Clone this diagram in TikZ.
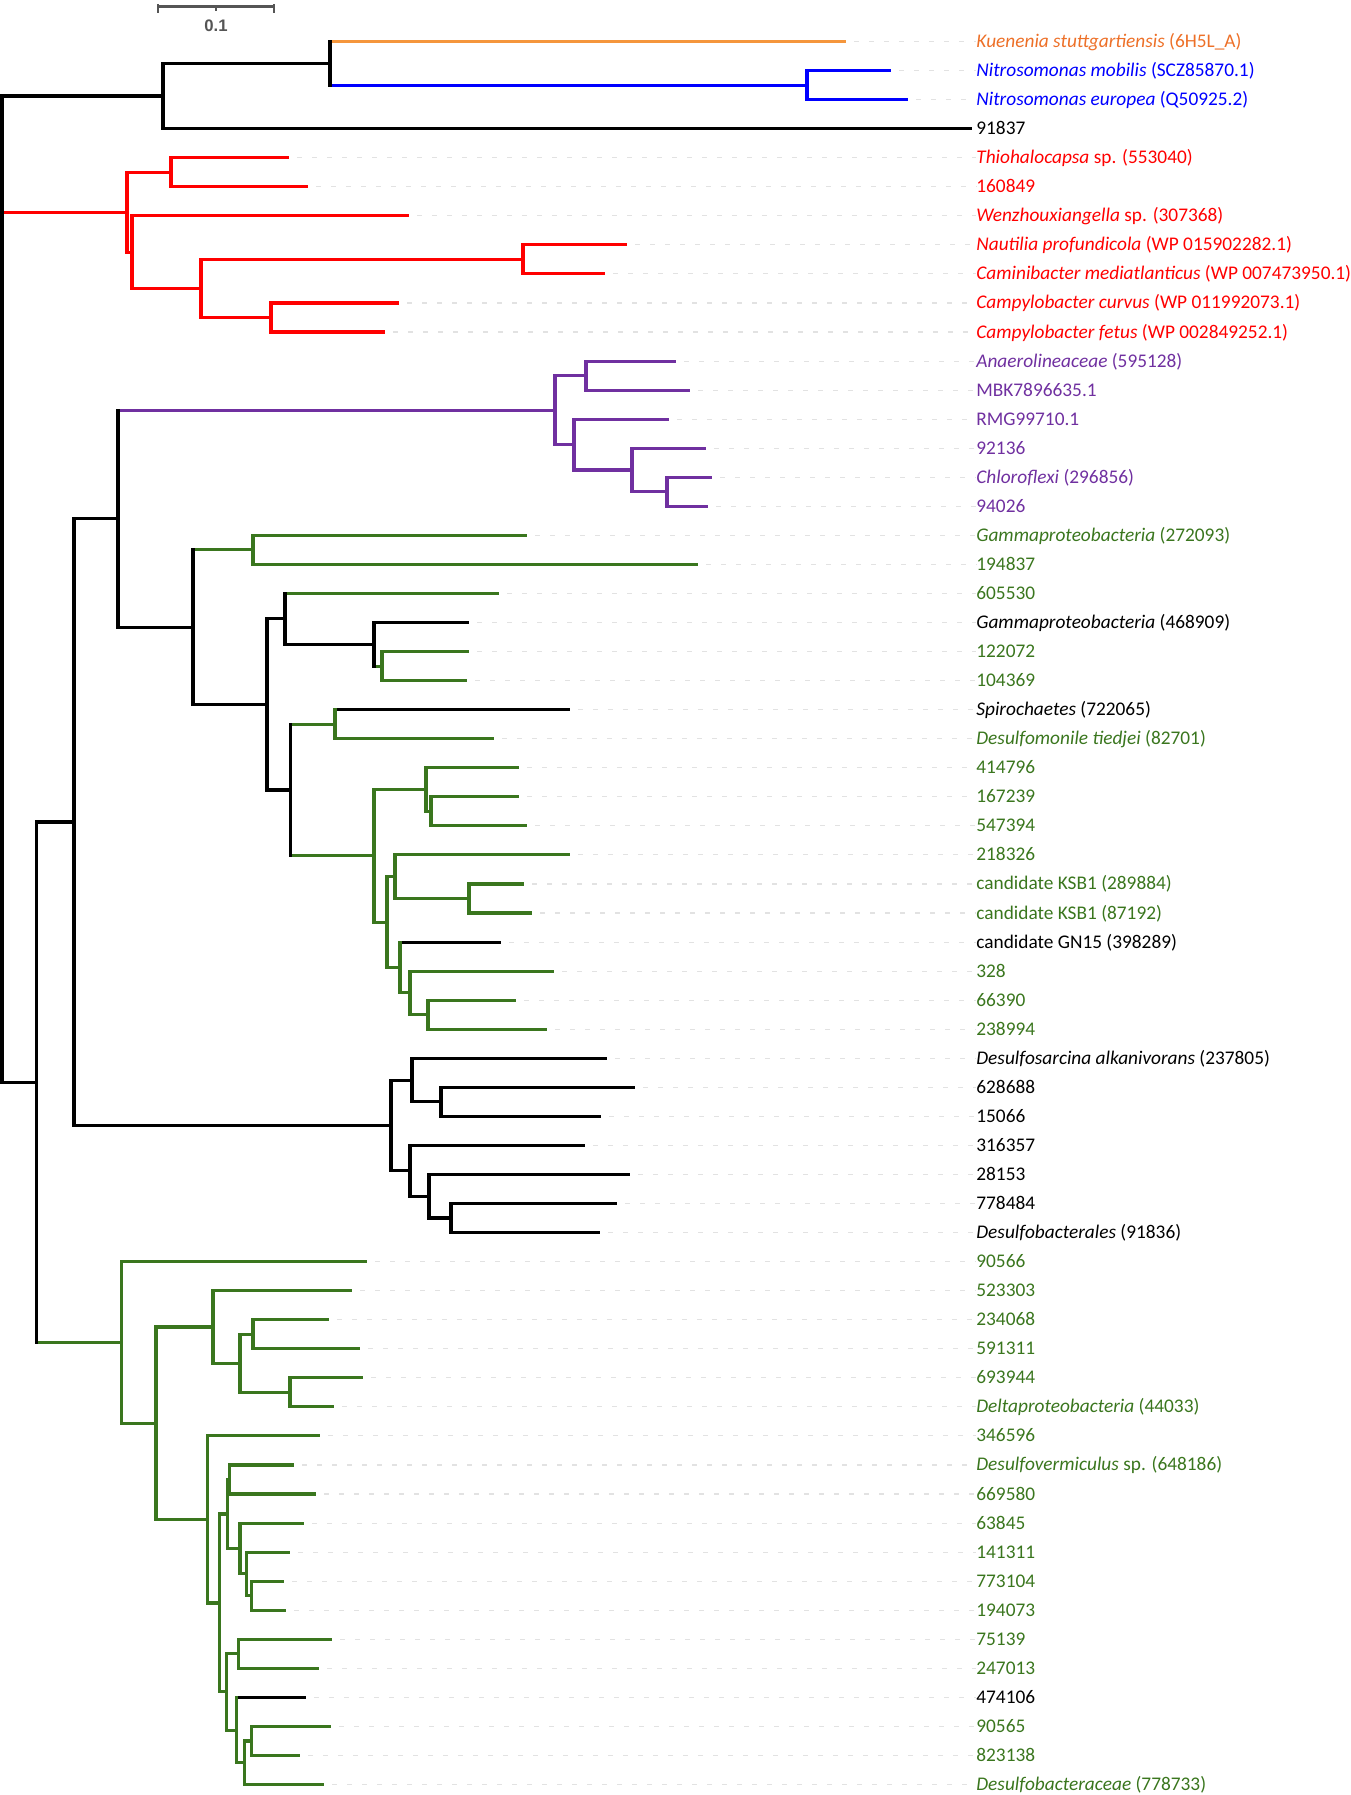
\documentclass[tikz,border=0pt]{standalone}
\usepackage{fontspec}
\setmainfont{Carlito}
\newfontfamily\barfont{Liberation Sans}
\usetikzlibrary{calc}
\definecolor{orangebr}{RGB}{245,150,60}
\definecolor{orangetx}{RGB}{237,112,40}
\definecolor{bluetr}{RGB}{0,0,255}
\definecolor{redtr}{RGB}{255,0,0}
\definecolor{purpletr}{RGB}{112,48,160}
\definecolor{greentr}{RGB}{58,118,30}
\definecolor{leadgray}{RGB}{226,226,226}
\definecolor{bargray}{RGB}{85,85,85}
\tikzset{
  branch/.style={line width=0.062cm, line cap=rect},
  leader/.style={line width=0.022cm, draw=leadgray, dash pattern=on 0.1cm off 0.2cm, shorten <=0.2cm},
  lab/.style={anchor=base west, inner sep=0pt, yshift=-0.12cm, font=\fontsize{11}{12}\selectfont},
  scalebar/.style={line width=0.055cm, draw=bargray},
}
\begin{document}
\begin{tikzpicture}[x=0.02cm,y=-0.02cm]
\useasboundingbox (0,0) rectangle (1350,1795);
% tips, one per row
\foreach \i/\len in {1/844,2/889,3/906,4/970,5/287,6/306,7/407,8/625,9/603,10/397,
    11/383,12/674,13/688,14/667,15/704,16/710,17/706,18/525,19/696,20/497,
    21/467,22/467,23/465,24/568,25/492,26/517,27/517,28/525,29/568,30/522,
    31/530,32/499,33/552,34/514,35/545,36/605,37/633,38/599,39/583,40/628,
    41/615,42/598,43/365,44/350,45/327,46/358,47/361,48/332,49/318,50/292,
    51/314,52/302,53/288,54/282,55/284,56/330,57/317,58/304,59/329,60/298,61/322}
  \coordinate (e\i) at (\len,{41.5+29.05*(\i-1)});
% labels
\foreach \i/\col/\txt in {
    1/orangetx/{\textit{Kuenenia stuttgartiensis} (6H5L\_A)},
    2/bluetr/{\textit{Nitrosomonas mobilis} (SCZ85870.1)},
    3/bluetr/{\textit{Nitrosomonas europea} (Q50925.2)},
    4/black/{91837},
    5/redtr/{\textit{Thiohalocapsa} sp. (553040)},
    6/redtr/{160849},
    7/redtr/{\textit{Wenzhouxiangella} sp. (307368)},
    8/redtr/{\textit{Nautilia profundicola} (WP 015902282.1)},
    9/redtr/{\textit{Caminibacter mediatlanticus} (WP 007473950.1)},
    10/redtr/{\textit{Campylobacter curvus} (WP 011992073.1)},
    11/redtr/{\textit{Campylobacter fetus} (WP 002849252.1)},
    12/purpletr/{\textit{Anaerolineaceae} (595128)},
    13/purpletr/{MBK7896635.1},
    14/purpletr/{RMG99710.1},
    15/purpletr/{92136},
    16/purpletr/{\textit{Chloroflexi} (296856)},
    17/purpletr/{94026},
    18/greentr/{\textit{Gammaproteobacteria} (272093)},
    19/greentr/{194837},
    20/greentr/{605530},
    21/black/{\textit{Gammaproteobacteria} (468909)},
    22/greentr/{122072},
    23/greentr/{104369},
    24/black/{\textit{Spirochaetes} (722065)},
    25/greentr/{\textit{Desulfomonile tiedjei} (82701)},
    26/greentr/{414796},
    27/greentr/{167239},
    28/greentr/{547394},
    29/greentr/{218326},
    30/greentr/{candidate KSB1 (289884)},
    31/greentr/{candidate KSB1 (87192)},
    32/black/{candidate GN15 (398289)},
    33/greentr/{328},
    34/greentr/{66390},
    35/greentr/{238994},
    36/black/{\textit{Desulfosarcina alkanivorans} (237805)},
    37/black/{628688},
    38/black/{15066},
    39/black/{316357},
    40/black/{28153},
    41/black/{778484},
    42/black/{\textit{Desulfobacterales} (91836)},
    43/greentr/{90566},
    44/greentr/{523303},
    45/greentr/{234068},
    46/greentr/{591311},
    47/greentr/{693944},
    48/greentr/{\textit{Deltaproteobacteria} (44033)},
    49/greentr/{346596},
    50/greentr/{\textit{Desulfovermiculus} sp. (648186)},
    51/greentr/{669580},
    52/greentr/{63845},
    53/greentr/{141311},
    54/greentr/{773104},
    55/greentr/{194073},
    56/greentr/{75139},
    57/greentr/{247013},
    58/black/{474106},
    59/greentr/{90565},
    60/greentr/{823138},
    61/greentr/{\textit{Desulfobacteraceae} (778733)}}
  \node[lab,text=\col] (t\i) at (976,{41.5+29.05*(\i-1)}) {\txt};
% dashed leaders from tips to labels
\foreach \i in {1,2,3,5,6,...,61}
  \draw[leader] (e\i) -- (e\i -| t\i.west);
% inner nodes
\foreach \n/\x/\y in {root/2/589.1, A/163/95.97, B/330/63.29, C/807/85.08,
    R1/127/212.17, R2/171/172.23, R3/132/252.11, R4/201/288.43, R5/523/259.38, R6/271/317.48,
    L/36.5/1082.2, M/74/822.03, N1/118/518.62,
    P1/555/410.07, P2/586/375.58, P3/574/444.57, P4/632/469.99, P5/667/491.78,
    N2/193/627.16, G1/253/549.88, N3/267/704.44, N4/285/618.87, N5/374/644.29, N6/382/666.08,
    N7/290.5/790.0, N8/335/724.18, N9/374/855.81, N10/426/789.54, N11/431/811.33,
    N12/387/922.08, N13/395/876.69, N14/469/898.48, N15/400/967.47, N16/410/992.89, N17/428/1014.68,
    D1/391/1125.43, D2/412/1080.04, D3/441/1101.83, D4/410/1170.82, D5/429/1196.24, D6/451/1218.03,
    E1/121.5/1342.4, E2/156/1423.19, E3/213/1326.96, E4/240/1363.28, E5/253/1334.23, E6/290/1392.33,
    E7/207.7/1519.42, E8/219.3/1602.94, E9/227.7/1513.97, E10/229.3/1479.48, E11/240/1548.47,
    E12/246.7/1573.89, E13/251.7/1595.68, E14/226.7/1691.9, E15/238.3/1653.78, E16/236.7/1730.03,
    E17/244.3/1762.71, E18/251.7/1740.93}
  \coordinate (\n) at (\x,\y);
% horizontal branches
\foreach \n/\c in {root/A, root/L, A/B, A/e4, L/M, M/N1, M/D1, N1/N2, N2/N3, N3/N4, N3/N7,
    N4/N5, N5/e21, N8/e24, N15/e32, E16/e58,
    D1/D2, D1/D4, D2/e36, D2/D3, D3/e37, D3/e38, D4/e39, D4/D5, D5/e40, D5/D6, D6/e41, D6/e42}
  \draw[branch,draw=black] (\n |- \c) -- (\c);
\draw[branch,draw=orangebr] (B |- e1) -- (e1);
\foreach \n/\c in {B/C, C/e2, C/e3}
  \draw[branch,draw=bluetr] (\n |- \c) -- (\c);
\foreach \n/\c in {root/R1, R1/R2, R1/R3, R2/e5, R2/e6, R3/e7, R3/R4, R4/R5, R4/R6,
    R5/e8, R5/e9, R6/e10, R6/e11}
  \draw[branch,draw=redtr] (\n |- \c) -- (\c);
\foreach \n/\c in {N1/P1, P1/P2, P1/P3, P2/e12, P2/e13, P3/e14, P3/P4, P4/e15, P4/P5, P5/e16, P5/e17}
  \draw[branch,draw=purpletr] (\n |- \c) -- (\c);
\foreach \n/\c in {N2/G1, G1/e18, G1/e19, N4/e20, N5/N6, N6/e22, N6/e23, N7/N8, N7/N9, N8/e25,
    N9/N10, N9/N12, N10/e26, N10/N11, N11/e27, N11/e28, N12/N13, N12/N15, N13/e29, N13/N14,
    N14/e30, N14/e31, N15/N16, N16/e33, N16/N17, N17/e34, N17/e35,
    L/E1, E1/e43, E1/E2, E2/E3, E2/E7, E3/e44, E3/E4, E4/E5, E4/E6, E5/e45, E5/e46, E6/e47, E6/e48,
    E7/e49, E7/E8, E8/E9, E8/E14, E9/E10, E9/E11, E10/e50, E10/e51, E11/e52, E11/E12, E12/e53,
    E12/E13, E13/e54, E13/e55, E14/E15, E14/E16, E15/e56, E15/e57, E16/E17, E17/E18, E17/e61,
    E18/e59, E18/e60}
  \draw[branch,draw=greentr] (\n |- \c) -- (\c);
% vertical joins
\foreach \n/\a/\b/\col in {root/A/L/black, A/B/e4/black, B/e1/C/black, C/e2/e3/bluetr,
    R1/R2/R3/redtr, R2/e5/e6/redtr, R3/e7/R4/redtr, R4/R5/R6/redtr, R5/e8/e9/redtr, R6/e10/e11/redtr,
    L/M/E1/black, M/N1/D1/black, N1/P1/N2/black,
    P1/P2/P3/purpletr, P2/e12/e13/purpletr, P3/e14/P4/purpletr, P4/e15/P5/purpletr, P5/e16/e17/purpletr,
    N2/G1/N3/black, G1/e18/e19/greentr, N3/N4/N7/black, N4/e20/N5/black, N5/e21/N6/black,
    N6/e22/e23/greentr, N7/N8/N9/black, N8/e24/e25/greentr, N9/N10/N12/greentr, N10/e26/N11/greentr,
    N11/e27/e28/greentr, N12/N13/N15/greentr, N13/e29/N14/greentr, N14/e30/e31/greentr,
    N15/e32/N16/greentr, N16/e33/N17/greentr, N17/e34/e35/greentr,
    D1/D2/D4/black, D2/e36/D3/black, D3/e37/e38/black, D4/e39/D5/black, D5/e40/D6/black, D6/e41/e42/black,
    E1/e43/E2/greentr, E2/E3/E7/greentr, E3/e44/E4/greentr, E4/E5/E6/greentr, E5/e45/e46/greentr,
    E6/e47/e48/greentr, E7/e49/E8/greentr, E8/E9/E14/greentr, E9/E10/E11/greentr, E10/e50/e51/greentr,
    E11/e52/E12/greentr, E12/e53/E13/greentr, E13/e54/e55/greentr, E14/E15/E16/greentr,
    E15/e56/e57/greentr, E16/e58/E17/greentr, E17/E18/e61/greentr, E18/e59/e60/greentr}
  \draw[branch,draw=\col] (\n |- \a) -- (\n |- \b);
% scale bar
\coordinate (sbl) at (158,6.5);
\coordinate (sbr) at (274,6.5);
\coordinate (sbm) at ($(sbl)!0.5!(sbr)$);
\draw[scalebar] (sbl) -- (sbr);
\draw[scalebar] ([yshift=0.05cm]sbl) -- ([yshift=-0.13cm]sbl);
\draw[scalebar] ([yshift=0.05cm]sbr) -- ([yshift=-0.13cm]sbr);
\draw[scalebar] (sbm) -- ([yshift=-0.09cm]sbm);
\node[text=bargray, font=\barfont\bfseries\fontsize{9.5}{11}\selectfont, inner sep=0pt] (sblab) at (216,26) {0.1};
\end{tikzpicture}
\end{document}
